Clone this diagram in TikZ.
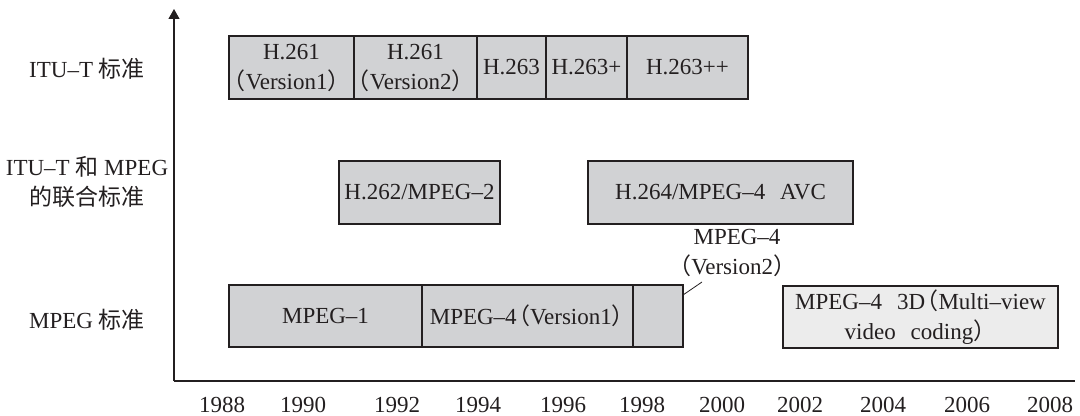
\documentclass[tikz,border=0pt]{standalone}
\usepackage{fontspec}
\setmainfont{Liberation Serif}
\newfontfamily\cjk{Noto Sans CJK SC}
\usetikzlibrary{arrows.meta,positioning}
\newcommand{\lpar}{\hspace{-0.42em}{\cjk （}}
\newcommand{\rpar}{{\cjk ）}\hspace{-0.42em}}
\newcommand{\wsp}{\hspace{0.65em}}
\definecolor{boxgray}{HTML}{D1D2D4}
\definecolor{boxlight}{HTML}{ECECEC}
\definecolor{inkdark}{HTML}{231F20}

\begin{document}
\begin{tikzpicture}[x=0.5pt,y=-0.5pt,
  font=\fontsize{11.5}{15}\selectfont,text=inkdark,
  box/.style={draw=inkdark,fill=boxgray,line width=0.65pt,align=center,
              inner sep=0pt,outer sep=0pt,minimum height=31.5pt},
  axis/.style={draw=inkdark,line width=0.55pt},
  leader/.style={draw=inkdark,line width=0.4pt},
  rowlabel/.style={align=center}
]
\useasboundingbox (0,0) rectangle (1080,416);

% axes
\coordinate (origin) at (174,381);
\coordinate (ytop) at (174,9);
\coordinate (xend) at (1075,381);
\draw[axis,-{Triangle[length=5pt,width=5.5pt]}] (origin) -- (ytop);
\draw[axis] (origin) -- (xend);

% row labels
\node[rowlabel] (itu) at (87,69) {ITU–T {\cjk 标准}};
\node[rowlabel] (joint) at (87,182) {ITU–T {\cjk 和} MPEG\\{\cjk 的联合标准}};
\node[rowlabel] (mpeg) at (87,320) {MPEG {\cjk 标准}};

% ITU-T row
\node[box,minimum width=62.5pt] (h261a) at (291.5,67.5) {H.261\\\lpar Version1\rpar};
\node[box,minimum width=61.5pt,right=0pt of h261a] (h261b) {H.261\\\lpar Version2\rpar};
\node[box,minimum width=34.5pt,right=0pt of h261b] (h263) {H.263};
\node[box,minimum width=40.5pt,right=0pt of h263] (h263p) {H.263+};
\node[box,minimum width=60.5pt,right=0pt of h263p] (h263pp) {H.263++};

% joint row
\node[box,minimum width=80.5pt] (h262) at (419.5,192.5) {H.262/MPEG–2};
\node[box,minimum width=132.5pt] (h264) at (720.5,192.5) {H.264/MPEG–4\wsp AVC};

% MPEG row
\node[box,minimum width=96.5pt,minimum height=31pt] (mpeg1) at (325.5,316) {MPEG–1};
\node[box,minimum width=105.5pt,minimum height=31pt,right=0pt of mpeg1] (mpeg4a) {MPEG–4\lpar Version1\rpar};
\node[box,minimum width=25pt,minimum height=31pt,right=0pt of mpeg4a] (mpeg4b) {};
\node[box,fill=boxlight,minimum width=137.5pt,minimum height=31pt] (mpeg3d) at (920.5,317)
  {MPEG–4\wsp 3D\lpar Multi–view\\video\wsp coding\rpar};

% MPEG-4 version 2 label
\node[rowlabel] (v2) at (737,253) {MPEG–4\\\lpar Version2\rpar};
\coordinate (v2tip) at (702,282);
\draw[leader] ([yshift=-5pt]mpeg4b.north east) -- (v2tip);

% years
\foreach \yr/\px in {1988/222,1990/303,1992/397,1994/478,1996/563,1998/642,
                     2000/722,2002/800,2004/883,2006/967,2008/1050}
  \node (y\yr) at (\px,405) {\yr};
\end{tikzpicture}
\end{document}
